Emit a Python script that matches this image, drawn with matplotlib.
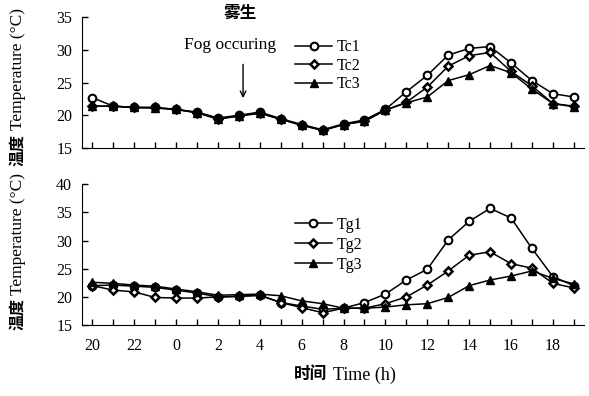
import matplotlib
matplotlib.use('Agg')
import matplotlib.pyplot as plt
import numpy as np

plt.rcParams['font.family'] = ['Liberation Serif', 'Noto Sans CJK SC', 'DejaVu Sans']

# hours, 20h of the first day to 19h of the next
hours = [20, 21, 22, 23, 0, 1, 2, 3, 4, 5, 6, 7, 8, 9, 10, 11, 12, 13, 14, 15, 16, 17, 18, 19]
tc1 = [22.7, 21.4, 21.2, 21.2, 20.9, 20.5, 19.6, 20.0, 20.5, 19.5, 18.6, 17.8, 18.7, 19.3,
       20.9, 23.6, 26.1, 29.2, 30.2, 30.5, 28.0, 25.3, 23.3, 22.8]
tc2 = [21.4, 21.4, 21.2, 21.2, 20.9, 20.4, 19.5, 19.9, 20.4, 19.4, 18.5, 17.7, 18.6, 19.1,
       20.8, 22.0, 24.3, 27.5, 29.1, 29.6, 26.7, 24.5, 21.8, 21.4]
tc3 = [21.4, 21.4, 21.2, 21.1, 20.9, 20.4, 19.4, 19.9, 20.3, 19.4, 18.5, 17.7, 18.6, 19.1,
       20.8, 21.9, 22.8, 25.3, 26.2, 27.6, 26.5, 24.0, 21.8, 21.3]
tg1 = [22.0, 22.1, 21.9, 21.7, 21.2, 20.7, 20.0, 20.1, 20.3, 19.0, 18.4, 17.8, 18.0, 19.0,
       20.5, 23.0, 24.9, 30.1, 33.4, 35.7, 34.0, 28.6, 23.6, 22.0]
tg2 = [22.0, 21.2, 20.9, 19.9, 19.8, 19.8, 20.0, 20.1, 20.3, 19.0, 18.1, 17.2, 18.0, 18.0,
       18.8, 20.0, 22.1, 24.6, 27.4, 28.0, 25.9, 25.1, 22.4, 21.6]
tg3 = [22.6, 22.4, 22.1, 21.9, 21.4, 20.9, 20.3, 20.4, 20.5, 20.2, 19.3, 18.8, 18.0, 18.0,
       18.2, 18.6, 18.8, 19.9, 22.0, 23.0, 23.7, 24.6, 23.3, 22.3]

x = np.arange(len(hours))

fig = plt.figure(figsize=(5.89, 3.96), dpi=100)
ax1 = fig.add_axes([0.139, 0.626, 0.853, 0.331])
ax2 = fig.add_axes([0.139, 0.179, 0.853, 0.356])

circ = dict(marker='o', mfc='white', mec='black', mew=1.5, ms=5.5)
diam = dict(marker='D', mfc='white', mec='black', mew=1.8, ms=4.5)
tri = dict(marker='^', mfc='black', mec='black', ms=6)

ax1.plot(x, tc1, color='black', lw=1.1, label='Tc1', **circ)
ax1.plot(x, tc2, color='black', lw=1.1, label='Tc2', **diam)
ax1.plot(x, tc3, color='black', lw=1.1, label='Tc3', **tri)

ax2.plot(x, tg1, color='black', lw=1.1, label='Tg1', **circ)
ax2.plot(x, tg2, color='black', lw=1.1, label='Tg2', **diam)
ax2.plot(x, tg3, color='black', lw=1.1, label='Tg3', **tri)

ax1.set_ylim(15, 35)
ax1.set_yticks([15, 20, 25, 30, 35])
ax2.set_ylim(15, 40)
ax2.set_yticks([15, 20, 25, 30, 35, 40])

for ax in (ax1, ax2):
    ax.set_xlim(-0.5, 23.5)
    ax.set_xticks(x)
    ax.spines['top'].set_visible(False)
    ax.spines['right'].set_visible(False)
    ax.tick_params(axis='both', direction='in', length=4, width=1, labelsize=11.5)
    ax.tick_params(axis='y', pad=7)
    ax.tick_params(axis='x', pad=9)

ax1.set_xticklabels([])
ax2.set_xticklabels([str(h) if i % 2 == 0 else '' for i, h in enumerate(hours)])

ax1.legend(loc='upper left', bbox_to_anchor=(0.425, 0.83), frameon=False, fontsize=11.5,
           borderpad=0, borderaxespad=0, handlelength=2.3, handletextpad=0.3, labelspacing=0.15)
ax2.legend(loc='upper left', bbox_to_anchor=(0.424, 0.77), frameon=False, fontsize=11.5,
           borderpad=0, borderaxespad=0, handlelength=2.3, handletextpad=0.3, labelspacing=0.25)

# fog annotation
ax1.annotate('', xy=(7.2, 22.2), xytext=(7.2, 28.2),
             arrowprops=dict(arrowstyle='->', color='black', lw=1))
ax1.text(6.6, 30.8, 'Fog occuring', ha='center', va='center', fontsize=12.5)
fig.text(240 / 589, 1 - 14 / 396, '雾生', ha='center', va='center', fontsize=12, fontweight='bold')

# y labels
for yb_cn, yb_en in [(0.580, 0.672), (0.167, 0.256)]:
    fig.text(0.031, yb_cn, '温度', rotation=90, ha='center', va='bottom', fontsize=11.5, fontweight='bold')
    fig.text(0.031, yb_en, 'Temperature (°C)', rotation=90, ha='center', va='bottom', fontsize=12.5)

# x label
fig.text(0.555, 0.053, '时间', ha='right', va='center', fontsize=12, fontweight='bold')
fig.text(0.565, 0.053, 'Time (h)', ha='left', va='center', fontsize=13)

fig.savefig('out.png', dpi=100)
